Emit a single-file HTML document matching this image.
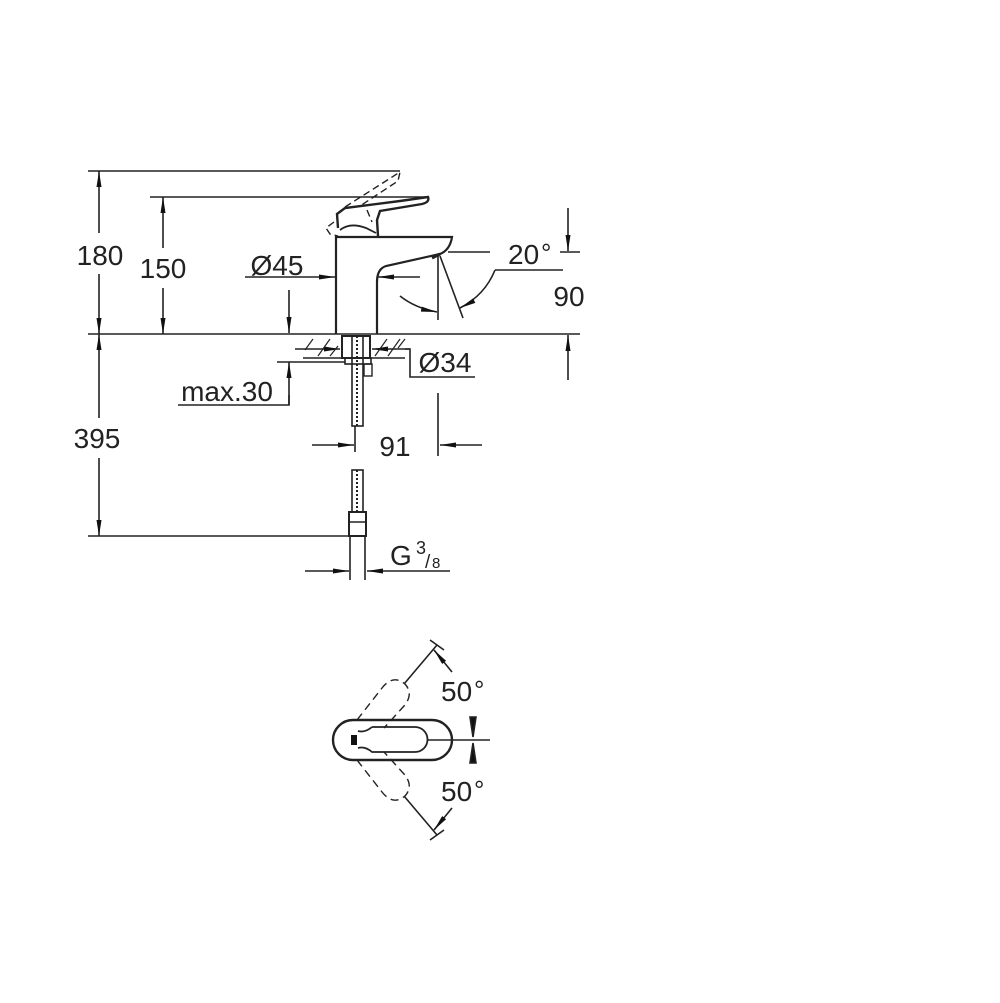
<!DOCTYPE html>
<html><head><meta charset="utf-8"><style>
html,body{margin:0;padding:0;background:#fff;}
svg{display:block;}
text{font-family:"Liberation Sans",sans-serif;fill:#222;}
</style></head><body>
<svg width="1000" height="1003" viewBox="0 0 1000 1003" xmlns="http://www.w3.org/2000/svg">
<defs>
<marker id="a" markerWidth="16" markerHeight="8" refX="16" refY="4" orient="auto" markerUnits="userSpaceOnUse">
<path d="M0,1.5 L16,4 L0,6.5 Z" fill="#111"/></marker>
</defs>
<g stroke="#222" stroke-width="1.6" fill="none">
<line x1="88" y1="171" x2="400" y2="171"/>
<line x1="150" y1="197" x2="427" y2="197"/>
<line x1="88" y1="334" x2="580" y2="334"/>
<line x1="88" y1="536" x2="355" y2="536"/>
<line x1="99" y1="233" x2="99" y2="171" marker-end="url(#a)"/>
<line x1="99" y1="274" x2="99" y2="334" marker-end="url(#a)"/>
<line x1="99" y1="418" x2="99" y2="334" marker-end="url(#a)"/>
<line x1="99" y1="458" x2="99" y2="536" marker-end="url(#a)"/>
<line x1="163" y1="248" x2="163" y2="197" marker-end="url(#a)"/>
<line x1="163" y1="288" x2="163" y2="334" marker-end="url(#a)"/>
<line x1="245" y1="277" x2="335" y2="277" marker-end="url(#a)"/>
<line x1="420" y1="277" x2="378" y2="277" marker-end="url(#a)"/>
<line x1="289" y1="290" x2="289" y2="333" marker-end="url(#a)"/>
<line x1="289" y1="405" x2="289" y2="362" marker-end="url(#a)"/>
<polyline points="178,405 289,405 289,395"/>
<line x1="277" y1="362" x2="345" y2="362"/>
<path d="M336,334 L336,237 L452,237 Q450,250 440,254 L386,266 Q377,269 377,282 L377,334" stroke-width="2.2"/>
<line x1="440" y1="254" x2="432" y2="258" stroke-width="3"/>
<path d="M338,228 L337,214 L345,208 L400,201 L428,197 Q430,202 422,204 L380,211 L377,220 L378,236" stroke-width="2.4"/>
<path d="M340,230 Q350,222 366,228 L376,233" stroke-width="1.8"/>
<g stroke-dasharray="7,4" stroke-width="1.4">
<path d="M345,207 L400,172 L398,181 L360,206"/>
<path d="M334,222 L326,228 L330,234 L338,236"/>
<line x1="367" y1="210" x2="372" y2="222"/>
</g>
<line x1="303" y1="358" x2="405" y2="358"/>
<line x1="295" y1="349" x2="340" y2="349" marker-end="url(#a)"/>
<line x1="410" y1="349" x2="372" y2="349" marker-end="url(#a)"/>
<polyline points="405,349 410,349 410,377 475,377"/>
<g stroke-width="1.2">
<line x1="305" y1="350" x2="313" y2="339"/><line x1="318" y1="356" x2="330" y2="339"/>
<line x1="330" y1="356" x2="338" y2="346"/><line x1="375" y1="356" x2="387" y2="339"/>
<line x1="388" y1="356" x2="400" y2="339"/><line x1="398" y1="348" x2="405" y2="339"/>
</g>
<rect x="342" y="336" width="28" height="22" stroke-width="2"/>
<rect x="345" y="358" width="26" height="6" stroke-width="1.6"/>
<rect x="364" y="364" width="8" height="12" stroke-width="1.4"/>
<rect x="352" y="336" width="11" height="90" stroke-width="1.6"/>
<line x1="357" y1="336" x2="357" y2="426" stroke-dasharray="2,2" stroke-width="2"/>
<line x1="355" y1="426" x2="355" y2="452"/>
<rect x="352" y="470" width="11" height="42" stroke-width="1.6"/>
<line x1="357" y1="470" x2="357" y2="512" stroke-dasharray="2,2" stroke-width="2"/>
<rect x="349" y="512" width="17" height="24" stroke-width="2"/>
<line x1="349" y1="522" x2="366" y2="522"/>
<line x1="350" y1="536" x2="350" y2="580"/>
<line x1="365" y1="536" x2="365" y2="580"/>
<line x1="312" y1="445" x2="354" y2="445" marker-end="url(#a)"/>
<line x1="482" y1="445" x2="440" y2="445" marker-end="url(#a)"/>
<line x1="438" y1="393" x2="438" y2="456"/>
<line x1="305" y1="571" x2="349" y2="571" marker-end="url(#a)"/>
<line x1="450" y1="571" x2="367" y2="571" marker-end="url(#a)"/>
<line x1="448" y1="252" x2="490" y2="252"/>
<line x1="438" y1="256" x2="438" y2="320"/>
<line x1="440" y1="256" x2="463" y2="318"/>
<path d="M400,296 Q415,308 437,312" marker-end="url(#a)"/>
<line x1="495" y1="270" x2="563" y2="270"/>
<path d="M495,270 Q485,295 460,308" marker-end="url(#a)"/>
<line x1="560" y1="252" x2="580" y2="252"/>
<line x1="568" y1="208" x2="568" y2="251" marker-end="url(#a)"/>
<line x1="568" y1="380" x2="568" y2="335" marker-end="url(#a)"/>
<path d="M353,720 L432,720 A20,20 0 0 1 432,760 L353,760 A20,20 0 0 1 353,720 Z" stroke-width="2.4"/>
<path d="M372,727 L415,727 A12.5,12.5 0 0 1 415,752 L372,752 Q365,746 358,748 M372,727 Q365,733 358,731" stroke-width="1.8"/>
<rect x="351" y="735" width="6" height="10" fill="#111" stroke="none"/>
<line x1="427" y1="740" x2="490" y2="740"/>
<path d="M470,717 L476,717 L473,737 Z" fill="#111"/>
<path d="M470,763 L476,763 L473,743 Z" fill="#111"/>
<g stroke-dasharray="8,5" stroke-width="1.4">
<path d="M357,720 L382,688 Q393,674 405,684 Q414,694 404,706 L384,728"/>
<path d="M357,760 L382,792 Q393,806 405,796 Q414,786 404,774 L384,752"/>
</g>
<line x1="404" y1="684" x2="437" y2="645"/>
<line x1="430" y1="640" x2="444" y2="650"/>
<line x1="452" y1="672" x2="434" y2="650" marker-end="url(#a)"/>
<line x1="404" y1="796" x2="437" y2="835"/>
<line x1="430" y1="840" x2="444" y2="830"/>
<line x1="452" y1="808" x2="434" y2="830" marker-end="url(#a)"/>
</g>
<g font-size="28" text-anchor="middle">
<text x="100" y="265">180</text>
<text x="163" y="278">150</text>
<text x="97" y="448">395</text>
<text x="277" y="275">Ø45</text>
<text x="227" y="401">max.30</text>
<text x="445" y="372">Ø34</text>
<text x="395" y="456">91</text>
<text x="569" y="306">90</text>
</g>
<g font-size="28">
<text x="390" y="565">G</text>
<text x="416" y="554" font-size="18">3</text>
<text x="425" y="568" font-size="19">/</text>
<text x="432" y="568" font-size="15">8</text>
<text x="508" y="264">20</text>
<text x="541" y="262" font-size="26">°</text>
<text x="441" y="701">50</text>
<text x="474" y="699" font-size="26">°</text>
<text x="441" y="801">50</text>
<text x="474" y="799" font-size="26">°</text>
</g>
</svg>
</body></html>
